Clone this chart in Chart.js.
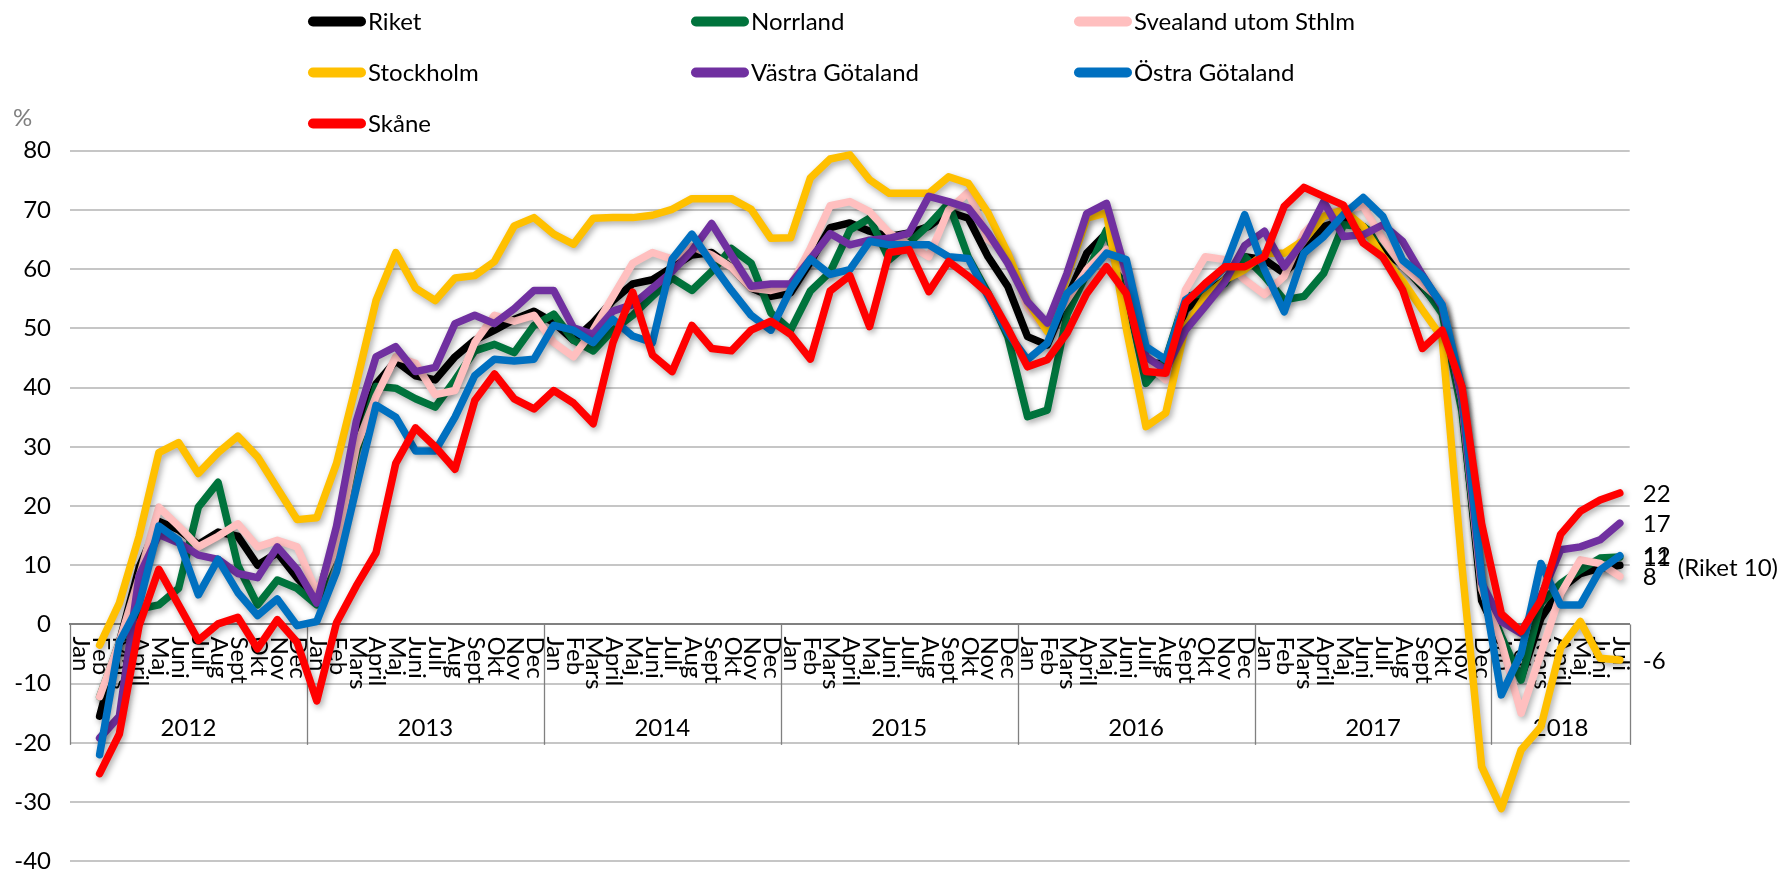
<!DOCTYPE html>
<html><head><meta charset="utf-8">
<script src="https://cdn.jsdelivr.net/npm/chart.js@4.4.0/dist/chart.umd.min.js"></script>
<style>html,body{margin:0;padding:0;background:#fff;}canvas{display:block;}</style>
</head><body>
<canvas id="c" width="1777" height="871" style="width:1777px;height:871px"></canvas>
<script>
const monthNames = ['Jan','Feb','Mars','April','Maj','Juni','Juli','Aug','Sept','Okt','Nov','Dec'];
const years = ['2012','2013','2014','2015','2016','2017','2018'];
const monthsInYear = [12,12,12,12,12,12,7];
const yTicks = [-40,-30,-20,-10,0,10,20,30,40,50,60,70,80];

const riket = [null,-15.5,-3,9.6,17.4,16,13.5,15.6,14.9,10,12.1,7.9,
 4.3,15,32,40.6,44.5,42,41.3,45.2,48,49.7,51.5,52.9,
 51,48,51,54.7,57.5,58.2,60.3,62.4,62.8,60.3,56.8,55.4,
 56,61.2,67,67.8,66.4,65.5,66.1,67.2,69.7,68.6,62.1,57.1,
 48.6,47.2,55,62.7,66.1,59.3,44.1,44.1,53.1,55.9,58.2,62.1,
 61.6,59.3,62.7,67.2,68.3,67.2,63,60.7,57,53,37,4,
 -3,-9,1,6,8.6,9.5,10];
const norrland = [null,-12.2,-3,2.6,3.3,6.1,19.8,24,10,3.3,7.5,6.1,
 3.3,14,29,40.2,39.9,38.1,36.7,41.3,46.2,47.3,45.9,50.5,
 52.4,48,46.2,49.7,52.2,55.4,58.5,56.4,59.6,63.5,61,52.6,
 49.7,56.3,59.5,66.6,68.6,61.6,64.4,67.5,71.1,62,55.9,48.6,
 35.1,36.2,52.3,59.3,66.6,56,40.7,44.7,55.4,55.9,57.6,62.1,
 58.8,54.8,55.4,59.3,67.5,67.2,64.8,60.5,57.3,52.5,36,6,
 -2,-9.4,3.6,6.9,9.2,11.2,11.4];
const svealand = [null,-12.2,-3,8,19.8,16.6,13.1,14.9,17,13.1,14.2,13.1,
 5.4,13,30,38.5,45.2,44.1,38.8,39.5,47.6,52.2,51.2,52.2,
 47.6,45.2,49.7,55.4,61,62.8,61.7,63.8,62.4,60.3,56.8,56.4,
 57.2,63.5,70.7,71.4,69.7,66.1,64.1,62.1,70,73,65,62.7,
 53.5,49.7,54.8,59.9,63.3,59.3,44.1,41.3,56.5,62.1,61.6,58.2,
 55.7,58.8,66.1,69.5,70,70.6,65,60.5,57.5,54.5,38,6,
 -3,-15,-4.9,5.2,10.9,10.3,8.1];
const stockholm = [null,-3.5,3.6,14.9,29,30.7,25.5,29,31.8,28.3,23,17.7,
 18,27.2,40.6,54.7,62.8,56.8,54.7,58.5,58.9,61.3,67.3,68.7,
 65.9,64.2,68.6,68.7,68.7,69.1,70.1,71.9,71.9,71.9,70.1,65.2,
 65.3,75.4,78.6,79.3,75.1,72.8,72.8,72.8,75.6,74.5,69.5,62.7,
 54.5,49.5,58.8,68.6,69.5,50,33.4,35.7,50.3,55.4,58.2,59.9,
 62.7,62.7,64.9,68.9,70,67.2,62.1,58,53.1,48.4,10,-24,
 -31.1,-21.2,-17.3,-4,0.5,-5.7,-6];
const vastraGotaland = [null,-19.2,-15.5,8.2,15.2,13.8,11.7,11,8.6,7.9,13.1,9.3,
 3.6,16.6,34.3,45.2,46.9,42.7,43.4,50.8,52.2,50.8,53.3,56.4,
 56.4,50.1,49,52.9,54,56.8,59.6,63.1,67.7,62.4,57.1,57.5,
 57.5,61.7,66,64.1,64.9,65.2,66.1,72.3,71.4,70.3,66.1,61,
 54.5,50.9,59.3,69.4,71.1,59.3,45.2,43,49.7,53.7,57.9,64,
 66.4,60.4,64.9,71.4,65.5,65.8,67.5,64.7,59,53.7,38,7,
 0.5,-1.5,4.7,12.6,13.1,14.3,17.1];
const ostraGotaland = [null,-22,-3,3.3,16.6,14.2,5,11,5.4,1.5,4.3,-0.2,
 0.5,8.9,23,37,35,29.3,29.3,35,42,44.8,44.5,44.8,
 50.5,49.7,47.6,51.5,48.7,47.6,61.7,65.9,61,56.4,52.2,49.7,
 56.6,61.7,59.1,59.9,64.7,64.1,64.1,64.1,62.1,61.8,55.4,49.2,
 44.7,47.5,55.9,58.8,62.7,61.6,46.9,44.7,54.8,57,60.4,69.2,
 59.9,52.8,62.7,65.5,69.2,72.1,68.9,61.5,58.8,54,40,8,
 -11.9,-4.9,10.3,3.3,3.3,9.2,11.6];
const skane = [null,-25.2,-18.5,-0.2,9.3,3.3,-2.7,0.1,1.2,-4.1,0.8,-3,
 -12.9,0.3,6.5,12.1,27.2,33.2,30,26.2,37.8,42.3,38.1,36.4,
 39.5,37.4,33.9,47.6,56.1,45.5,42.7,50.5,46.6,46.2,49.7,51.2,
 49,44.8,56.3,58.9,50.3,62.8,63.3,56.2,61.3,58.8,55.9,50,
 43.5,44.7,49.2,55.9,60.4,55.9,42.7,42.4,54.3,57.6,60.4,60.4,
 62.1,70.6,73.8,72.3,70.8,64.4,62,56.5,46.6,49.7,40.2,17,
 1.8,-1.2,4.1,15.2,19.1,21,22.2];

const seriesNames = ['Riket','Norrland','Svealand utom Sthlm','Stockholm','Västra Götaland','Östra Götaland','Skåne'];
const seriesData = [riket, norrland, svealand, stockholm, vastraGotaland, ostraGotaland, skane];
const seriesColors = ['#000000','#00733C','#FFBFBF','#FFC000','#7030A0','#0070C0','#FF0000'];
const endLabelShown = [false, true, true, true, true, true, true];

const categories = [];
years.forEach((yr, k) => { for (let m = 0; m < monthsInYear[k]; m++) categories.push(monthNames[m]); });

const FONT = 'Lato, "DejaVu Sans", sans-serif';

const decor = {
  id: 'decor',
  beforeDatasetsDraw(chart) {
    const {ctx, scales: {x, y}} = chart;
    const y0 = y.getPixelForValue(0);
    const yLow = y.getPixelForValue(-20);
    const slot = x.getPixelForValue(1) - x.getPixelForValue(0);
    ctx.save();
    ctx.font = '24px ' + FONT;
    ctx.fillStyle = '#000';
    ctx.textAlign = 'left';
    ctx.textBaseline = 'middle';
    categories.forEach((lab, i) => {
      const px = x.getPixelForValue(i);
      ctx.save();
      ctx.translate(px + 1, y0 + 12);
      ctx.rotate(Math.PI / 2);
      ctx.fillText(lab, 0, 0);
      ctx.restore();
    });
    // year separators and labels
    ctx.strokeStyle = '#808080';
    ctx.lineWidth = 1.3;
    let start = 0;
    const drawSep = (xx) => { ctx.beginPath(); ctx.moveTo(Math.round(xx) + 0.5, y0); ctx.lineTo(Math.round(xx) + 0.5, yLow + 2); ctx.stroke(); };
    drawSep(x.getPixelForValue(0) - slot / 2);
    ctx.textAlign = 'center';
    years.forEach((yr, k) => {
      const end = start + monthsInYear[k];
      const xl = x.getPixelForValue(start) - slot / 2;
      const xr = x.getPixelForValue(end - 1) + slot / 2;
      drawSep(xr);
      ctx.fillText(yr, (xl + xr) / 2, y.getPixelForValue(-17.5));
      start = end;
    });
    ctx.restore();
    ctx.save();
    ctx.shadowColor = 'rgba(0,0,0,0.33)';
    ctx.shadowBlur = 6;
    ctx.shadowOffsetX = 2;
    ctx.shadowOffsetY = 3;
  },
  afterDatasetsDraw(chart) {
    const {ctx, scales: {x, y}} = chart;
    ctx.restore();
    ctx.save();
    ctx.font = '24px ' + FONT;
    ctx.fillStyle = '#000';
    ctx.textBaseline = 'middle';
    ctx.textAlign = 'left';
    const lastIdx = categories.length - 1;
    const px = x.getPixelForValue(lastIdx);
    seriesData.forEach((arr, i) => {
      const v = arr[lastIdx];
      if (endLabelShown[i]) {
        ctx.fillText(String(Math.round(v)), px + 23, y.getPixelForValue(v) + 1);
      } else {
        ctx.fillText('(' + seriesNames[i] + ' ' + Math.round(v) + ')', px + 58, y.getPixelForValue(v) + 3);
      }
    });
    ctx.restore();
  },
  afterDraw(chart) {
    const {ctx} = chart;
    ctx.save();
    ctx.font = '24px ' + FONT;
    ctx.textBaseline = 'middle';
    ctx.fillStyle = '#808080';
    ctx.textAlign = 'left';
    ctx.fillText('%', 13, 118);
    const colX = [308, 691, 1074];
    const rowY = [21.5, 72.5, 123.5];
    chart.data.datasets.forEach((ds, i) => {
      const cx = colX[i % 3], cy = rowY[Math.floor(i / 3)];
      ctx.strokeStyle = ds.borderColor;
      ctx.lineWidth = 10;
      ctx.lineCap = 'round';
      ctx.beginPath(); ctx.moveTo(cx + 5, cy); ctx.lineTo(cx + 53, cy); ctx.stroke();
      ctx.fillStyle = '#000';
      ctx.fillText(ds.label, cx + 60, cy + 1);
    });
    ctx.restore();
  }
};

function draw() {
  new Chart(document.getElementById('c'), {
    type: 'line',
    data: {
      labels: categories,
      datasets: seriesNames.map((name, i) => ({
        label: name,
        data: seriesData[i],
        borderColor: seriesColors[i],
        backgroundColor: seriesColors[i],
        borderWidth: 7.5,
        pointRadius: 0,
        pointHoverRadius: 0,
        tension: 0,
        fill: false,
        borderJoinStyle: 'round',
        borderCapStyle: 'round',
        order: seriesNames.length - i
      }))
    },
    options: {
      responsive: false,
      animation: false,
      devicePixelRatio: 1,
      layout: { padding: { top: 150.7, right: 147.3, bottom: 9.7, left: 0 } },
      plugins: { legend: { display: false }, tooltip: { enabled: false } },
      scales: {
        x: {
          type: 'category',
          offset: true,
          position: { y: 0 },
          ticks: { display: false },
          grid: { display: false, drawTicks: false },
          border: { display: true, color: '#808080', width: 2 },
          afterFit(s) { s.height = 0; s.paddingLeft = 0; s.paddingRight = 0; }
        },
        y: {
          min: yTicks[0],
          max: yTicks[yTicks.length - 1],
          afterBuildTicks(s) { s.ticks = yTicks.map(v => ({ value: v })); },
          ticks: { color: '#000', font: { family: FONT, size: 24 }, padding: 19, autoSkip: false },
          grid: { color: '#c6c6c6', lineWidth: 2, drawTicks: false },
          border: { display: false },
          afterFit(s) { s.width = 70; s.paddingTop = 0; s.paddingBottom = 0; }
        }
      }
    },
    plugins: [decor]
  });
}
if (document.fonts && document.fonts.load) {
  document.fonts.load('24px Lato').then(draw, draw);
} else { draw(); }
</script>
</body></html>
